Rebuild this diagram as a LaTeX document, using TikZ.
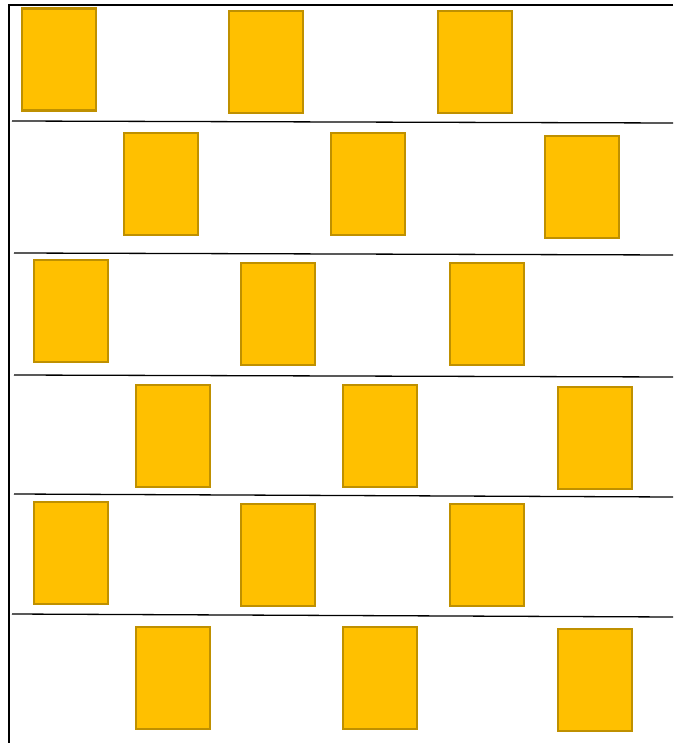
\documentclass[tikz,border=0pt]{standalone}
\usepackage{tikz}
\definecolor{boxfill}{HTML}{FFC000}
\definecolor{boxedge}{HTML}{BF9000}

\begin{document}
\begin{tikzpicture}[x=1pt, y=-1pt,
    crate/.style={draw=boxedge, fill=boxfill, line width=2.5pt,
        minimum width=74pt, minimum height=102pt, inner sep=0pt}]
    \useasboundingbox (0,0) rectangle (673,743);

    % frame
    \coordinate (TL) at (9,5);
    \coordinate (TR) at (673,5);
    \coordinate (BL) at (9,743);
    \draw[line width=2.8pt] (TR) -- (TL) -- (BL);

    % shelves
    \coordinate (S1a) at (12,121);  \coordinate (S1b) at (673,123);
    \coordinate (S2a) at (14,253);  \coordinate (S2b) at (673,255);
    \coordinate (S3a) at (14,375);  \coordinate (S3b) at (673,377);
    \coordinate (S4a) at (14,494);  \coordinate (S4b) at (673,497);
    \coordinate (S5a) at (12,614);  \coordinate (S5b) at (673,617);
    \foreach \s in {1,...,5}
        \draw[line width=1.3pt] (S\s a) -- (S\s b);

    % crates
    \node[crate] (r1c1) at (59,59.5) {};
    \node[crate] (r1c2) at (266,62) {};
    \node[crate] (r1c3) at (475,62) {};

    \node[crate] (r2c1) at (161,184) {};
    \node[crate] (r2c2) at (368,184) {};
    \node[crate] (r2c3) at (582,187) {};

    \node[crate] (r3c1) at (71,311) {};
    \node[crate] (r3c2) at (278,314) {};
    \node[crate] (r3c3) at (487,314) {};

    \node[crate] (r4c1) at (173,436) {};
    \node[crate] (r4c2) at (380,436) {};
    \node[crate] (r4c3) at (595,438) {};

    \node[crate] (r5c1) at (71,553) {};
    \node[crate] (r5c2) at (278,555) {};
    \node[crate] (r5c3) at (487,555) {};

    \node[crate] (r6c1) at (173,678) {};
    \node[crate] (r6c2) at (380,678) {};
    \node[crate] (r6c3) at (595,680) {};
\end{tikzpicture}
\end{document}
